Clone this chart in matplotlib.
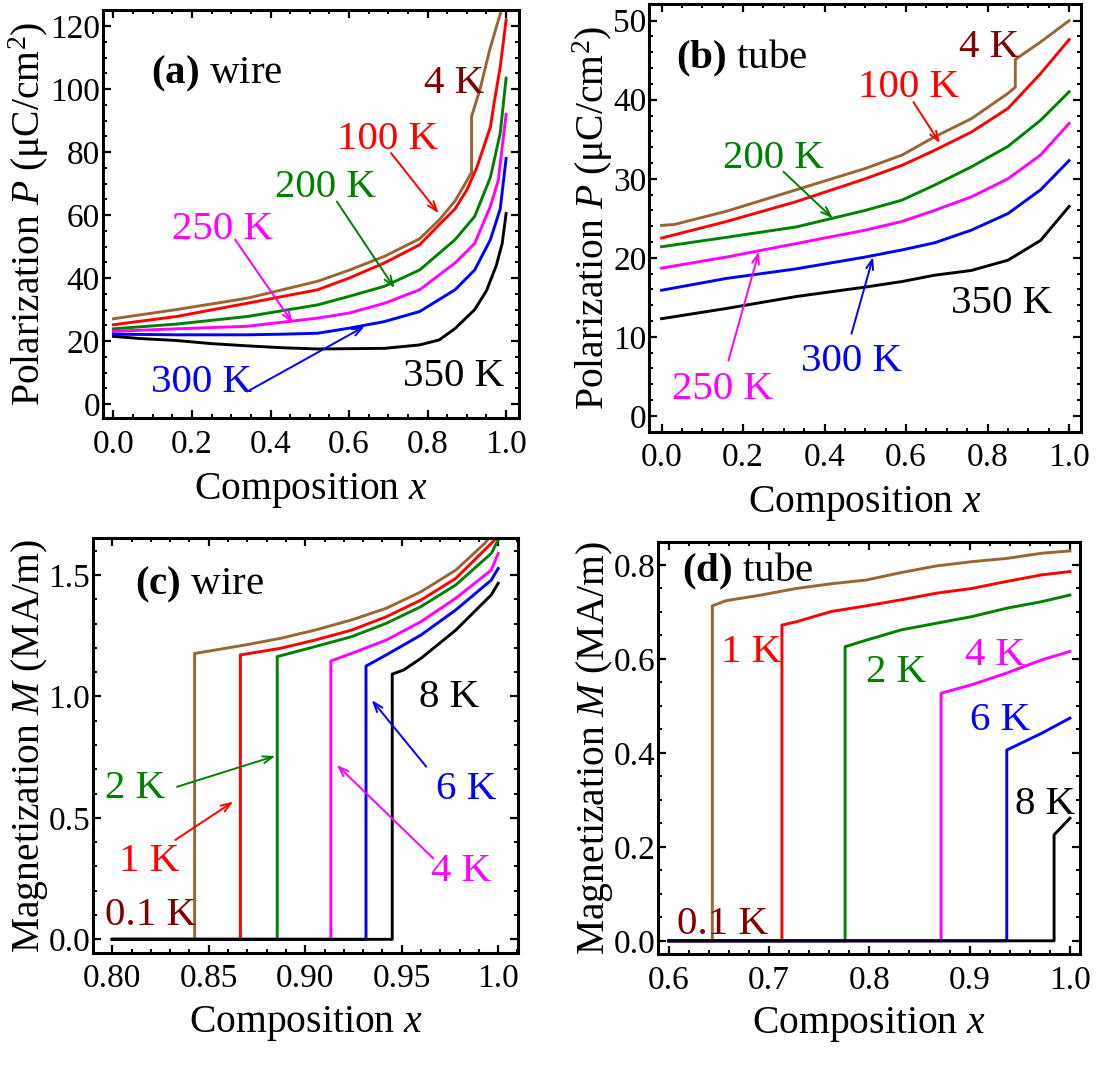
import matplotlib
matplotlib.use('Agg')
import matplotlib.pyplot as plt
from matplotlib.ticker import MultipleLocator

plt.rcParams['font.family'] = 'Liberation Serif'
plt.rcParams['mathtext.fontset'] = 'custom'
plt.rcParams['mathtext.rm'] = 'Liberation Serif'
plt.rcParams['mathtext.it'] = 'Liberation Serif:italic'
plt.rcParams['mathtext.bf'] = 'Liberation Serif:bold'

BROWN = '#996633'
RED = '#ff0000'
GREEN = '#008000'
MAGENTA = '#ff00ff'
BLUE = '#0000ff'
BLACK = '#000000'
DARKRED = '#800000'

# ---- (a) wire: polarization vs composition ----
xa_4K = [0.0, 0.16, 0.34, 0.52, 0.60, 0.69, 0.78, 0.83, 0.87, 0.912, 0.912, 0.933, 0.958, 0.99]
Pa_4K = [27.1, 30.0, 33.6, 39.0, 42.5, 46.9, 52.5, 58.5, 64.5, 73.5, 91.3, 99.7, 112.4, 126.0]
xa_100K = [0.0, 0.16, 0.34, 0.52, 0.60, 0.69, 0.78, 0.83, 0.87, 0.90, 0.925, 0.94, 0.96, 0.97, 0.985, 1.0]
Pa_100K = [25.2, 27.8, 32.0, 36.3, 40.0, 44.8, 50.6, 57.0, 62.0, 68.0, 75.0, 80.5, 88.0, 96.0, 107.0, 122.0]
xa_200K = [0.0, 0.16, 0.34, 0.52, 0.60, 0.69, 0.78, 0.87, 0.92, 0.96, 0.985, 1.0]
Pa_200K = [23.9, 25.4, 27.8, 31.5, 34.2, 37.4, 42.6, 52.2, 59.6, 72.0, 86.0, 103.5]
xa_250K = [0.0, 0.16, 0.34, 0.52, 0.60, 0.69, 0.78, 0.87, 0.92, 0.96, 0.98, 1.0]
Pa_250K = [23.1, 23.9, 24.7, 27.3, 28.9, 32.0, 36.3, 44.8, 51.0, 62.8, 71.0, 92.0]
xa_300K = [0.0, 0.16, 0.34, 0.43, 0.52, 0.60, 0.69, 0.78, 0.87, 0.92, 0.96, 0.985, 1.0]
Pa_300K = [22.2, 22.0, 22.0, 22.2, 22.5, 24.1, 26.2, 29.4, 36.3, 42.6, 52.2, 62.0, 78.0]
xa_350K = [0.0, 0.07, 0.16, 0.25, 0.34, 0.43, 0.52, 0.60, 0.69, 0.78, 0.83, 0.87, 0.92, 0.95, 0.975, 0.99, 1.0]
Pa_350K = [21.5, 20.8, 20.2, 19.2, 18.5, 17.9, 17.5, 17.6, 17.7, 18.8, 20.4, 24.0, 30.0, 36.0, 44.0, 51.0, 60.5]

# ---- (b) tube: polarization vs composition ----
xb = [0.0, 0.16, 0.33, 0.50, 0.59, 0.67, 0.76, 0.85, 0.93, 1.0]
xb_4K = [0.0, 0.03, 0.16, 0.33, 0.50, 0.59, 0.67, 0.76, 0.85, 0.868, 0.868, 0.93, 1.0]
Pb_4K = [24.1, 24.2, 25.9, 28.6, 31.3, 33.0, 35.3, 37.6, 40.8, 41.6, 45.1, 47.3, 50.0]
Pb_100K = [22.5, 24.6, 27.1, 30.0, 31.7, 33.6, 35.9, 38.9, 43.3, 47.6]
Pb_200K = [21.4, 22.6, 23.9, 26.0, 27.3, 29.2, 31.5, 34.1, 37.4, 41.0]
Pb_250K = [18.7, 20.1, 21.8, 23.5, 24.6, 26.0, 27.7, 30.0, 33.0, 37.0]
Pb_300K = [15.9, 17.4, 18.6, 20.1, 21.0, 21.9, 23.5, 25.6, 28.6, 32.3]
Pb_350K = [12.3, 13.6, 15.1, 16.3, 17.0, 17.8, 18.4, 19.7, 22.2, 26.5]

# ---- (c) wire: magnetization vs composition ----
xc_01K = [0.8, 0.8427, 0.8427, 0.851, 0.869, 0.887, 0.905, 0.924, 0.942, 0.96, 0.978, 0.993, 0.997]
Mc_01K = [0, 0, 1.177, 1.188, 1.212, 1.239, 1.273, 1.315, 1.363, 1.431, 1.52, 1.63, 1.67]
xc_1K = [0.8, 0.8664, 0.8664, 0.887, 0.905, 0.924, 0.942, 0.96, 0.978, 0.9964, 1.0]
Mc_1K = [0, 0, 1.171, 1.198, 1.232, 1.273, 1.328, 1.397, 1.486, 1.63, 1.66]
xc_2K = [0.8, 0.8855, 0.8855, 0.905, 0.924, 0.942, 0.96, 0.978, 0.9964, 1.0]
Mc_2K = [0, 0, 1.164, 1.205, 1.246, 1.301, 1.37, 1.459, 1.589, 1.644]
xc_4K = [0.8, 0.9133, 0.9133, 0.924, 0.942, 0.96, 0.978, 0.9964, 1.0]
Mc_4K = [0, 0, 1.146, 1.177, 1.232, 1.308, 1.404, 1.52, 1.589]
xc_6K = [0.8, 0.9315, 0.9315, 0.942, 0.96, 0.978, 0.9964, 1.0]
Mc_6K = [0, 0, 1.125, 1.171, 1.253, 1.356, 1.479, 1.527]
xc_8K = [0.8, 0.9451, 0.9451, 0.951, 0.96, 0.978, 0.9964, 1.0]
Mc_8K = [0, 0, 1.092, 1.109, 1.157, 1.273, 1.418, 1.466]

# ---- (d) tube: magnetization vs composition ----
xd_01K = [0.6, 0.6434, 0.6434, 0.657, 0.692, 0.727, 0.762, 0.797, 0.832, 0.867, 0.902, 0.937, 0.972, 1.0]
Md_01K = [0, 0, 0.713, 0.724, 0.736, 0.750, 0.760, 0.768, 0.784, 0.798, 0.807, 0.814, 0.825, 0.830]
xd_1K = [0.6, 0.7128, 0.7128, 0.727, 0.762, 0.797, 0.832, 0.867, 0.902, 0.937, 0.972, 1.0]
Md_1K = [0, 0, 0.672, 0.679, 0.701, 0.713, 0.726, 0.740, 0.750, 0.765, 0.779, 0.786]
xd_2K = [0.6, 0.7758, 0.7758, 0.797, 0.832, 0.867, 0.902, 0.937, 0.972, 1.0]
Md_2K = [0, 0, 0.626, 0.640, 0.662, 0.676, 0.690, 0.708, 0.722, 0.736]
xd_4K = [0.6, 0.8715, 0.8715, 0.902, 0.937, 0.972, 1.0]
Md_4K = [0, 0, 0.527, 0.545, 0.570, 0.598, 0.616]
xd_6K = [0.6, 0.937, 0.937, 0.972, 1.0]
Md_6K = [0, 0, 0.406, 0.442, 0.474]
xd_8K = [0.6, 0.9842, 0.9842, 1.0]
Md_8K = [0, 0, 0.2255, 0.261]

# tick labels
xt_ab = [0.0, 0.2, 0.4, 0.6, 0.8, 1.0]
xt_ab_lab = ['0.0', '0.2', '0.4', '0.6', '0.8', '1.0']
yt_a = [0, 20, 40, 60, 80, 100, 120]
yt_b = [0, 10, 20, 30, 40, 50]
xt_c = [0.80, 0.85, 0.90, 0.95, 1.0]
xt_c_lab = ['0.80', '0.85', '0.90', '0.95', '1.0']
yt_c = [0.0, 0.5, 1.0, 1.5]
yt_c_lab = ['0.0', '0.5', '1.0', '1.5']
xt_d = [0.6, 0.7, 0.8, 0.9, 1.0]
xt_d_lab = ['0.6', '0.7', '0.8', '0.9', '1.0']
yt_d = [0.0, 0.2, 0.4, 0.6, 0.8]
yt_d_lab = ['0.0', '0.2', '0.4', '0.6', '0.8']

LW = 2.1
TXT = 29.5
TICK = 24
LAB = 28.5

fig = plt.figure(figsize=(11.01, 10.66), dpi=100)
ax_a = fig.add_axes([0.0934, 0.6076, 0.3777, 0.3830])
ax_b = fig.add_axes([0.5898, 0.5950, 0.3916, 0.4012])
ax_c = fig.add_axes([0.0844, 0.1063, 0.3865, 0.3887])
ax_d = fig.add_axes([0.5978, 0.1051, 0.3830, 0.3868])


def style(ax, xminor, yminor):
    for s in ax.spines.values():
        s.set_linewidth(2.2)
    ax.xaxis.set_minor_locator(MultipleLocator(xminor))
    ax.yaxis.set_minor_locator(MultipleLocator(yminor))
    ax.tick_params(which='both', direction='in', top=True, right=True, labelsize=TICK)
    ax.tick_params(which='major', length=6, width=1.6)
    ax.tick_params(which='minor', length=3, width=1.4)
    ax.tick_params(axis='x', pad=8)
    ax.tick_params(axis='y', pad=2)


def arrow(ax, start, end, color):
    ax.annotate('', xy=end, xytext=start,
                arrowprops=dict(arrowstyle='->,head_length=0.7,head_width=0.25',
                                color=color, lw=1.4, shrinkA=0, shrinkB=0))


# panel (a)
ax = ax_a
ax.plot(xa_4K, Pa_4K, color=BROWN, lw=LW)
ax.plot(xa_100K, Pa_100K, color=RED, lw=LW)
ax.plot(xa_200K, Pa_200K, color=GREEN, lw=LW)
ax.plot(xa_250K, Pa_250K, color=MAGENTA, lw=LW)
ax.plot(xa_300K, Pa_300K, color=BLUE, lw=LW)
ax.plot(xa_350K, Pa_350K, color=BLACK, lw=LW)
ax.set_xlim(-0.027, 1.032)
ax.set_ylim(-4.5, 125.1)
ax.set_xticks(xt_ab, xt_ab_lab)
ax.set_yticks(yt_a, [str(v) for v in yt_a])
style(ax, 0.05, 5)
ax.set_xlabel('Composition $x$', fontsize=LAB, labelpad=8)
ax.set_ylabel('Polarization $P$ (μC/cm$^2$)', fontsize=LAB, labelpad=-1)
ax.text(0.0955, 101.8, r'$\mathbf{(a)}$ wire', fontsize=TXT, va='baseline')
ax.text(0.792, 98.9, '4 K', color=DARKRED, fontsize=TXT, va='baseline')
ax.text(0.569, 80.9, '100 K', color=RED, fontsize=TXT, va='baseline')
ax.text(0.4125, 65.6, '200 K', color=GREEN, fontsize=TXT, va='baseline')
ax.text(0.149, 52.4, '250 K', color=MAGENTA, fontsize=TXT, va='baseline')
ax.text(0.0955, 3.8, '300 K', color=BLUE, fontsize=TXT, va='baseline')
ax.text(0.738, 5.6, '350 K', color=BLACK, fontsize=TXT, va='baseline')
arrow(ax, (0.707, 79.7), (0.828, 60.6), RED)
arrow(ax, (0.569, 64.3), (0.716, 36.8), GREEN)
arrow(ax, (0.31, 52.2), (0.457, 25.7), MAGENTA)
arrow(ax, (0.341, 4.0), (0.64, 24.7), BLUE)

# panel (b)
ax = ax_b
ax.plot(xb_4K, Pb_4K, color=BROWN, lw=LW)
ax.plot(xb, Pb_100K, color=RED, lw=LW)
ax.plot(xb, Pb_200K, color=GREEN, lw=LW)
ax.plot(xb, Pb_250K, color=MAGENTA, lw=LW)
ax.plot(xb, Pb_300K, color=BLUE, lw=LW)
ax.plot(xb, Pb_350K, color=BLACK, lw=LW)
ax.set_xlim(-0.030, 1.028)
ax.set_ylim(-2.0, 52.1)
ax.set_xticks(xt_ab, xt_ab_lab)
ax.set_yticks(yt_b, [str(v) for v in yt_b])
style(ax, 0.05, 2)
ax.set_xlabel('Composition $x$', fontsize=LAB, labelpad=8)
ax.set_ylabel('Polarization $P$ (μC/cm$^2$)', fontsize=LAB, labelpad=-1)
ax.text(0.036, 44.0, r'$\mathbf{(b)}$ tube', fontsize=TXT, va='baseline')
ax.text(0.730, 45.4, '4 K', color=DARKRED, fontsize=TXT, va='baseline')
ax.text(0.483, 40.3, '100 K', color=RED, fontsize=TXT, va='baseline')
ax.text(0.151, 31.4, '200 K', color=GREEN, fontsize=TXT, va='baseline')
ax.text(0.026, 2.1, '250 K', color=MAGENTA, fontsize=TXT, va='baseline')
ax.text(0.342, 5.7, '300 K', color=BLUE, fontsize=TXT, va='baseline')
ax.text(0.709, 13.0, '350 K', color=BLACK, fontsize=TXT, va='baseline')
arrow(ax, (0.618, 39.7), (0.683, 34.5), RED)
arrow(ax, (0.299, 30.9), (0.42, 25.0), GREEN)
arrow(ax, (0.164, 7.0), (0.239, 20.8), MAGENTA)
arrow(ax, (0.466, 10.4), (0.519, 20.1), BLUE)

# panel (c)
ax = ax_c
ax.plot(xc_01K, Mc_01K, color=BROWN, lw=LW)
ax.plot(xc_1K, Mc_1K, color=RED, lw=LW)
ax.plot(xc_2K, Mc_2K, color=GREEN, lw=LW)
ax.plot(xc_4K, Mc_4K, color=MAGENTA, lw=LW)
ax.plot(xc_6K, Mc_6K, color=BLUE, lw=LW)
ax.plot(xc_8K, Mc_8K, color=BLACK, lw=LW)
ax.set_xlim(0.790, 1.0105)
ax.set_ylim(-0.055, 1.651)
ax.set_xticks(xt_c, xt_c_lab)
ax.set_yticks(yt_c, yt_c_lab)
style(ax, 0.01, 0.1)
ax.set_xlabel('Composition $x$', fontsize=LAB, labelpad=7)
ax.set_ylabel('Magnetization $M$ (MA/m)', fontsize=LAB, labelpad=-1)
ax.text(0.8118, 1.422, r'$\mathbf{(c)}$ wire', fontsize=TXT, va='baseline')
ax.text(0.959, 0.958, '8 K', color=BLACK, fontsize=TXT, va='baseline')
ax.text(0.968, 0.576, '6 K', color=BLUE, fontsize=TXT, va='baseline')
ax.text(0.965, 0.240, '4 K', color=MAGENTA, fontsize=TXT, va='baseline')
ax.text(0.7964, 0.583, '2 K', color=GREEN, fontsize=TXT, va='baseline')
ax.text(0.8036, 0.283, '1 K', color=RED, fontsize=TXT, va='baseline')
ax.text(0.7964, 0.059, '0.1 K', color=DARKRED, fontsize=TXT, va='baseline')
arrow(ax, (0.9627, 0.711), (0.9345, 0.985), BLUE)
arrow(ax, (0.9664, 0.333), (0.9164, 0.718), MAGENTA)
arrow(ax, (0.8336, 0.628), (0.8845, 0.755), GREEN)
arrow(ax, (0.8327, 0.409), (0.8627, 0.567), RED)

# panel (d)
ax = ax_d
ax.plot(xd_01K, Md_01K, color=BROWN, lw=LW)
ax.plot(xd_1K, Md_1K, color=RED, lw=LW)
ax.plot(xd_2K, Md_2K, color=GREEN, lw=LW)
ax.plot(xd_4K, Md_4K, color=MAGENTA, lw=LW)
ax.plot(xd_6K, Md_6K, color=BLUE, lw=LW)
ax.plot(xd_8K, Md_8K, color=BLACK, lw=LW)
ax.set_xlim(0.5894, 1.0099)
ax.set_ylim(-0.028, 0.8497)
ax.set_xticks(xt_d, xt_d_lab)
ax.set_yticks(yt_d, yt_d_lab)
style(ax, 0.02, 0.05)
ax.set_xlabel('Composition $x$', fontsize=LAB, labelpad=7)
ax.set_ylabel('Magnetization $M$ (MA/m)', fontsize=LAB, labelpad=-1)
ax.text(0.613, 0.7645, r'$\mathbf{(d)}$ tube', fontsize=TXT, va='baseline')
ax.text(0.6525, 0.594, '1 K', color=RED, fontsize=TXT, va='baseline')
ax.text(0.797, 0.55, '2 K', color=GREEN, fontsize=TXT, va='baseline')
ax.text(0.895, 0.587, '4 K', color=MAGENTA, fontsize=TXT, va='baseline')
ax.text(0.900, 0.449, '6 K', color=BLUE, fontsize=TXT, va='baseline')
ax.text(0.9457, 0.27, '8 K', color=BLACK, fontsize=TXT, va='baseline')
ax.text(0.608, 0.015, '0.1 K', color=DARKRED, fontsize=TXT, va='baseline')

fig.savefig('out.png', dpi=100)
